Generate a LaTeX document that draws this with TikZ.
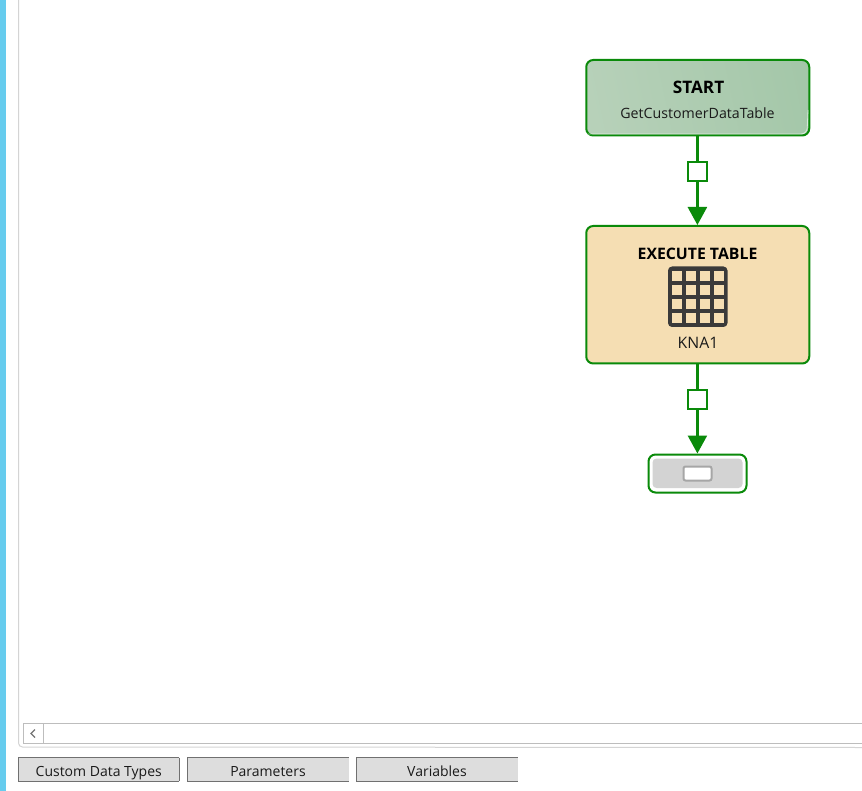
\documentclass[tikz,border=0pt]{standalone}
\usepackage{fontspec}
\setmainfont{Open Sans}
\usetikzlibrary{arrows.meta}
\definecolor{flowgreen}{HTML}{0A8A0A}
\definecolor{startA}{HTML}{BFD5C0}
\definecolor{startB}{HTML}{9CC3A2}
\definecolor{tablefill}{HTML}{F5DEB3}
\definecolor{icondark}{HTML}{3A3A3A}
\definecolor{sidebar}{HTML}{66CCEE}
\definecolor{panelline}{HTML}{D4D4D4}
\definecolor{scrollline}{HTML}{BDBDBD}
\definecolor{tabfill}{HTML}{DDDDDD}
\definecolor{tabline}{HTML}{707070}
\definecolor{endgray}{HTML}{D3D3D3}
\definecolor{slotline}{HTML}{A6A6A6}
\definecolor{inktext}{HTML}{1A1A1A}
\pgfdeclarehorizontalshading{startshade}{100bp}{color(0bp)=(startA); color(100bp)=(startB)}
\tikzset{
  x=1pt,y=-1pt,
  flowbox/.style={draw=flowgreen,line width=2pt,rounded corners=7pt,minimum width=223pt,inner sep=0pt,anchor=center},
  labeltext/.style={inner sep=0pt,text=inktext,font=\fontsize{14.2}{16}\selectfont,anchor=center},
  titletext/.style={inner sep=0pt,text=black,anchor=center},
  portbox/.style={draw=flowgreen,line width=2pt,fill=white,minimum width=18.6pt,minimum height=18.4pt,inner sep=0pt,anchor=center},
  flowline/.style={draw=flowgreen,line width=2.5pt},
  flowarrow/.style={flowline,-{Triangle[width=19pt,length=18pt,fill=flowgreen]}},
  tabbox/.style={fill=tabfill,minimum width=161pt,minimum height=23pt,inner sep=0pt,anchor=center,
                 text height=15pt,text depth=2pt,text=inktext,font=\fontsize{14}{16}\selectfont},
}
\begin{document}
\begin{tikzpicture}
\useasboundingbox (0,0) rectangle (862,791);
\fill[white] (0,0) rectangle (862,791);
% frame
\fill[sidebar] (0,0) rectangle (6,791);
\draw[panelline,line width=1pt] (18.5,0) -- (18.5,743) arc[start angle=180,end angle=90,radius=4pt,y radius=-4pt] -- (862,747.5);
% scrollbar
\draw[scrollline,line width=1pt] (862,723.5) -- (23.5,723.5) -- (23.5,743.5) -- (862,743.5);
\draw[scrollline,line width=1pt] (43.5,723.5) -- (43.5,743.5);
\draw[gray!90!black,line width=1.3pt] (35,729.5) -- (31,733.5) -- (35,737.5);
% tabs
\node[tabbox] (tabA) at (98.75,769.5) {Custom Data Types};
\node[tabbox] (tabB) at (268,769.5) {Parameters};
\node[tabbox] (tabC) at (437,769.5) {Variables};
\foreach \n in {tabA,tabB,tabC}{
  \draw[tabline,line width=1pt] (\n.north east) -- (\n.north west) -- (\n.south west) -- (\n.south east);
}
\draw[tabline,line width=1pt] (tabA.north east) -- (tabA.south east);
% flow nodes
\node[flowbox,minimum height=75.5pt,shading=startshade,shading angle=12] (start) at (697.75,97.75) {};
\draw[white,opacity=.6,line width=.8pt,rounded corners=6pt] (587.5,134) -- (807,134) -- (808,110);
\node[titletext,font=\bfseries\fontsize{17.2}{19}\selectfont] (startT) at (698.5,87) {START};
\node[labeltext] (startL) at (697.5,113) {GetCustomerDataTable};
\node[flowbox,minimum height=137.5pt,fill=tablefill] (exec) at (697.75,294.75) {};
\node[titletext,font=\bfseries\fontsize{15.8}{18}\selectfont] (execT) at (697.5,254) {EXECUTE TABLE};
\node[labeltext,font=\fontsize{15.8}{18}\selectfont] (execL) at (698,343) {KNA1};
\fill[icondark,rounded corners=4pt] (668,266.5) rectangle (727.5,327);
\foreach \i in {0,1,2,3}{\foreach \j in {0,1,2,3}{
  \fill[tablefill] ({671.8+14*\i},{270.8+14*\j}) rectangle ++(10.2,10.2);
}}
\node[flowbox,minimum width=98pt,minimum height=38pt,fill=white] (stop) at (697.5,473.5) {};
\fill[endgray,rounded corners=4pt] (652.5,458.5) rectangle (742.5,488);
\node[draw=slotline,line width=2pt,fill=white,rounded corners=2pt,minimum width=28pt,minimum height=14pt,inner sep=0pt] (slot) at (697.5,473.5) {};
% connectors
\node[portbox] (p1) at (697.4,171.4) {};
\node[portbox] (p2) at (697.4,399.4) {};
\draw[flowline] (start.south -| p1) -- (p1.north);
\draw[flowarrow] (p1.south) -- (exec.north -| p1);
\draw[flowline] (exec.south -| p2) -- (p2.north);
\draw[flowarrow] (p2.south) -- (stop.north -| p2);
\end{tikzpicture}
\end{document}
